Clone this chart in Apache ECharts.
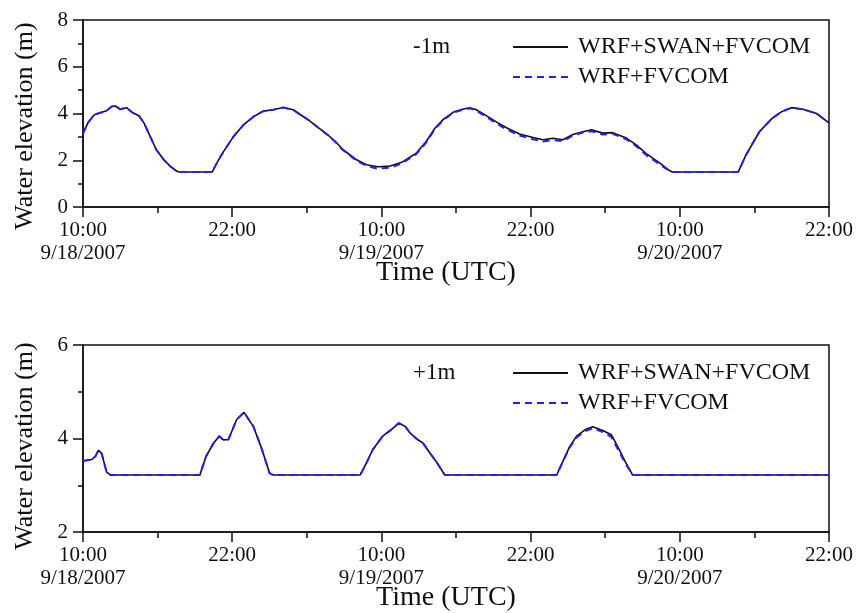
<!DOCTYPE html>
<html>
<head>
<meta charset="utf-8">
<script src="https://cdn.jsdelivr.net/npm/echarts@6/dist/echarts.min.js"></script>
<style>
html,body{margin:0;padding:0;background:#fff;}
#chart{width:861px;height:613px;}
</style>
</head>
<body>
<div id="chart"></div>
<script>
// ---- Data (hours after 10:00 9/18/2007) ----
var xTickLabels = ['10:00\n9/18/2007', '22:00', '10:00\n9/19/2007', '22:00', '10:00\n9/20/2007', '22:00'];
var seriesNames = ['WRF+SWAN+FVCOM', 'WRF+FVCOM'];

// Top panel (-1m)
var hoursTop = [0, 0.4, 0.9, 1.4, 1.9, 2.3, 2.6, 3.0, 3.5, 4.0, 4.5, 4.9, 5.4, 5.9, 6.5, 7.0, 7.5, 7.7, 10.4, 10.8,
  11.3, 12.1, 12.9, 13.7, 14.5, 15.3, 16.1, 16.9, 17.4, 18.2, 19.0, 19.7, 20.3, 20.9, 22.0, 22.8, 23.7, 24.7, 25.7, 26.8,
  27.6, 28.3, 29.0, 29.8, 30.6, 31.1, 31.6, 32.4, 33.3, 34.1, 35.1, 36.2, 37.0, 37.8, 38.6, 39.4, 40.2, 40.9, 41.8, 42.6,
  43.7, 44.5, 45.3, 46.4, 47.2, 47.4, 52.7, 53.3, 54.4, 55.4, 56.2, 57.0, 57.9, 59.0, 60];
var topCoupled = [3.15, 3.60, 3.95, 4.03, 4.12, 4.30, 4.32, 4.18, 4.25, 4.03, 3.90, 3.60, 3.02, 2.45, 2.02, 1.75, 1.55, 1.50, 1.50, 1.92,
  2.37, 3.01, 3.51, 3.86, 4.10, 4.16, 4.26, 4.16, 3.98, 3.70, 3.36, 3.08, 2.80, 2.46, 2.02, 1.81, 1.72, 1.75, 1.93, 2.30,
  2.80, 3.37, 3.76, 4.06, 4.19, 4.25, 4.17, 3.92, 3.62, 3.38, 3.12, 2.97, 2.88, 2.94, 2.88, 3.10, 3.22, 3.30, 3.16, 3.18,
  2.95, 2.66, 2.28, 1.88, 1.55, 1.50, 1.50, 2.20, 3.22, 3.78, 4.08, 4.25, 4.18, 4.00, 3.60];
var topUncoupled = [3.15, 3.60, 3.95, 4.03, 4.12, 4.30, 4.32, 4.18, 4.25, 4.03, 3.90, 3.60, 3.02, 2.45, 2.02, 1.75, 1.55, 1.50, 1.50, 1.92,
  2.37, 3.01, 3.51, 3.86, 4.10, 4.16, 4.26, 4.16, 3.98, 3.70, 3.36, 3.07, 2.78, 2.44, 1.98, 1.76, 1.64, 1.68, 1.88, 2.26,
  2.76, 3.33, 3.73, 4.04, 4.17, 4.22, 4.14, 3.87, 3.56, 3.31, 3.06, 2.90, 2.80, 2.86, 2.82, 3.06, 3.19, 3.24, 3.10, 3.13,
  2.90, 2.60, 2.22, 1.82, 1.52, 1.50, 1.50, 2.20, 3.22, 3.78, 4.08, 4.25, 4.18, 4.00, 3.60];

// Bottom panel (+1m)
var hoursBottom = [0, 0.7, 1.0, 1.25, 1.5, 1.9, 2.2, 9.4, 9.9, 10.5, 10.95, 11.3, 11.7, 12.35, 12.95, 13.7, 14.35, 15.0, 15.3,
  22.3, 22.8, 23.3, 24.1, 24.8, 25.4, 25.9, 26.3, 26.8, 27.35, 27.9, 28.4, 29.1, 38.1, 38.6, 39.15, 39.7, 40.4, 41.0,
  41.8, 42.5, 43.0, 43.6, 44.2, 60];
var bottomCoupled = [3.52, 3.55, 3.62, 3.75, 3.68, 3.28, 3.22, 3.22, 3.62, 3.90, 4.05, 3.97, 3.98, 4.40, 4.56, 4.26, 3.80, 3.26, 3.22,
  3.22, 3.48, 3.76, 4.05, 4.19, 4.33, 4.26, 4.12, 4.00, 3.90, 3.69, 3.51, 3.22, 3.22, 3.51, 3.83, 4.05, 4.19, 4.25,
  4.17, 4.08, 3.83, 3.51, 3.22, 3.22];
var bottomUncoupled = [3.52, 3.55, 3.62, 3.75, 3.68, 3.28, 3.22, 3.22, 3.62, 3.90, 4.05, 3.97, 3.98, 4.40, 4.56, 4.26, 3.80, 3.26, 3.22,
  3.22, 3.48, 3.76, 4.05, 4.19, 4.33, 4.26, 4.12, 4.00, 3.90, 3.69, 3.51, 3.22, 3.22, 3.51, 3.81, 4.02, 4.16, 4.22,
  4.14, 4.03, 3.78, 3.48, 3.22, 3.22];

function pairs(xs, ys) { return xs.map(function (x, i) { return [x, ys[i]]; }); }

var FONT = '"Liberation Serif", "Times New Roman", serif';
var BLACK = '#111';
var BLUE = '#1f1fff';

function xAxisDef(gi) {
  return {
    type: 'value', gridIndex: gi, min: 0, max: 60, interval: 12,
    axisLine: { onZero: false, lineStyle: { color: BLACK, width: 1.5 } },
    axisTick: { show: true, inside: false, length: 10, lineStyle: { color: BLACK, width: 1.5 } },
    minorTick: { show: true, splitNumber: 2, length: 6, lineStyle: { color: BLACK, width: 1.5 } },
    splitLine: { show: false },
    axisLabel: {
      color: BLACK, fontFamily: FONT, fontSize: 21, lineHeight: 23, margin: 12,
      showMaxLabel: true, showMinLabel: true,
      formatter: function (v) { return xTickLabels[Math.round(v / 12)]; }
    }
  };
}
function yAxisDef(gi, mn, mx) {
  return {
    type: 'value', gridIndex: gi, min: mn, max: mx, interval: 2,
    axisLine: { show: true, lineStyle: { color: BLACK, width: 1.5 } },
    axisTick: { show: true, inside: false, length: 10, lineStyle: { color: BLACK, width: 1.5 } },
    minorTick: { show: true, splitNumber: 2, length: 5, lineStyle: { color: BLACK, width: 1.5 } },
    splitLine: { show: false },
    axisLabel: { color: BLACK, fontFamily: FONT, fontSize: 21, margin: 15 }
  };
}
function lineSeries(name, xi, data, color, dashed) {
  return {
    name: name, type: 'line', xAxisIndex: xi, yAxisIndex: xi, data: data,
    symbol: 'none', smooth: false, animation: false,
    lineStyle: { color: color, width: dashed ? 2 : 1.6, type: dashed ? [7, 5] : 'solid' },
    itemStyle: { color: color }
  };
}
function legendDef(top) {
  return {
    orient: 'vertical', left: 507, top: top, itemWidth: 55, itemHeight: 14, itemGap: 6,
    data: seriesNames, selectedMode: false,
    itemStyle: { opacity: 0 },
    textStyle: { color: BLACK, fontFamily: FONT, fontSize: 24, lineHeight: 24, padding: [0, 0, 0, 5] }
  };
}
function txt(x, y, text, size, rot, align) {
  return {
    type: 'text', x: x, y: y, rotation: rot || 0, silent: true,
    style: { text: text, fontFamily: FONT, fontSize: size, fill: BLACK, align: align || 'center', verticalAlign: 'middle' }
  };
}

var chart = echarts.init(document.getElementById('chart'), null, { renderer: 'canvas' });
chart.setOption({
  animation: false,
  backgroundColor: '#fff',
  grid: [
    { left: 83, right: 32, top: 20, height: 187, show: true, borderColor: BLACK, borderWidth: 1.5, backgroundColor: 'transparent' },
    { left: 83, right: 32, top: 345, height: 187, show: true, borderColor: BLACK, borderWidth: 1.5, backgroundColor: 'transparent' }
  ],
  xAxis: [xAxisDef(0), xAxisDef(1)],
  yAxis: [yAxisDef(0, 0, 8), yAxisDef(1, 2, 6)],
  legend: [legendDef(30), legendDef(356)],
  series: [
    lineSeries(seriesNames[0], 0, pairs(hoursTop, topCoupled), BLACK, false),
    lineSeries(seriesNames[1], 0, pairs(hoursTop, topUncoupled), BLUE, true),
    lineSeries(seriesNames[0], 1, pairs(hoursBottom, bottomCoupled), BLACK, false),
    lineSeries(seriesNames[1], 1, pairs(hoursBottom, bottomUncoupled), BLUE, true)
  ],
  graphic: [
    txt(25, 126, 'Water elevation (m)', 26, Math.PI / 2),
    txt(25, 446, 'Water elevation (m)', 26, Math.PI / 2),
    txt(446, 273, 'Time (UTC)', 28),
    txt(446, 598, 'Time (UTC)', 28),
    txt(413, 47, '-1m', 23, 0, 'left'),
    txt(413, 373, '+1m', 23, 0, 'left')
  ]
});
</script>
</body>
</html>
